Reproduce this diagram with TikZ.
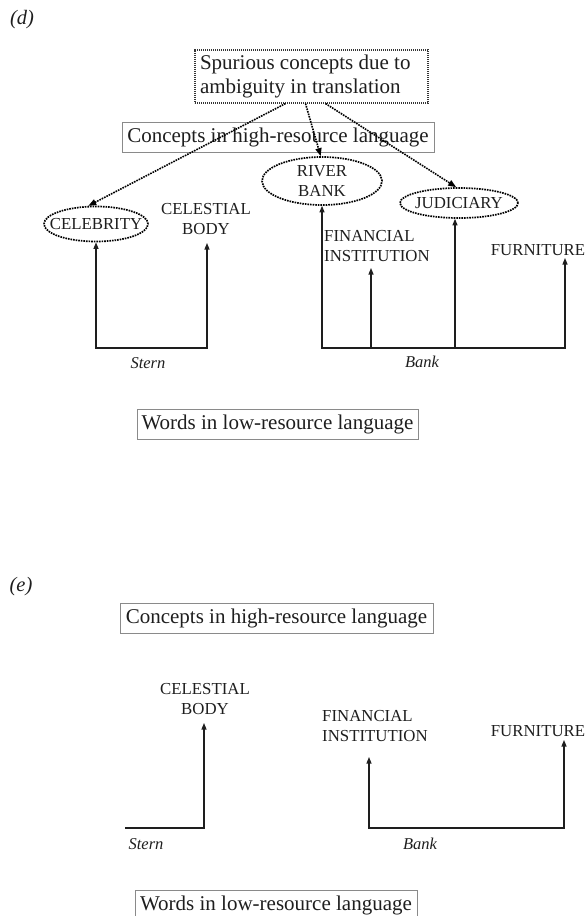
\documentclass[tikz,border=0pt]{standalone}
\usepackage{fontspec}
\setmainfont{Liberation Serif}
\usetikzlibrary{arrows.meta,shapes.geometric}
\definecolor{ink}{HTML}{1E1E1E}
\definecolor{boxgray}{HTML}{8A8A8A}
\begin{document}
\begin{tikzpicture}[x=1pt,y=-1pt,
  every node/.style={text=ink},
  bigtext/.style={font=\fontsize{21}{24}\selectfont},
  captext/.style={font=\fontsize{16.8}{20}\selectfont},
  itlabel/.style={font=\fontsize{16.5}{20}\selectfont\itshape},
  panellabel/.style={font=\fontsize{20.5}{24}\selectfont\itshape},
  graybox/.style={draw=boxgray, line width=1pt, rectangle, inner sep=0pt, minimum height=30pt, bigtext},
  dotbox/.style={draw=ink!90, dash pattern=on 1.1pt off 0.9pt, line width=1.1pt, rectangle, inner xsep=5pt, inner ysep=0pt, bigtext, align=flush left},
  oval/.style={ellipse, draw=black, dash pattern=on 1.6pt off 1pt, line width=1.7pt, inner sep=0pt},
  arr/.style={draw=ink, line width=1.1pt, -{Triangle[length=6.5pt,width=5pt]}},
  arrboth/.style={draw=ink, line width=1.1pt, {Triangle[length=6.5pt,width=5pt]}-{Triangle[length=6.5pt,width=5pt]}},
  dotarr/.style={draw=black, dash pattern=on 1.6pt off 1pt, line width=1.6pt, -{Triangle[length=8pt,width=6pt]}},
]
\useasboundingbox (0,0) rectangle (588,916);

% ---------------- panel (d) ----------------
\node[panellabel] (dlab) at (22,20) {(d)};

\node[dotbox, text width=223pt, minimum height=53pt] (spur) at (311.5,76.5)
  {Spurious concepts due to\\ambiguity in translation};

\node[graybox, minimum width=312pt] (conc1) at (278,137) {Concepts in high-resource language};

\node[oval, minimum width=104pt, minimum height=35pt,
  label={[captext]center:CELEBRITY}] (celeb) at (96,224) {};
\node[oval, minimum width=120pt, minimum height=48pt,
  label={[captext,align=center]center:{RIVER\\BANK}}] (river) at (322,181) {};
\node[oval, minimum width=118pt, minimum height=30pt,
  label={[captext]center:JUDICIARY}] (judic) at (459,203) {};

\node[captext, align=center, inner sep=0pt] (celest) at (206,219) {CELESTIAL\\BODY};
\node[captext, align=left, inner sep=0pt, anchor=west] (fin) at (324,246) {FINANCIAL\\INSTITUTION};
\node[captext, inner sep=0pt] (furn) at (538,250) {FURNITURE};

\node[itlabel] (stern1) at (148,363) {Stern};
\node[itlabel] (bank1) at (422,362) {Bank};

\node[graybox, minimum width=281pt] (words1) at (277.5,424) {Words in low-resource language};

% dotted spurious arrows
\draw[dotarr] ([xshift=-26pt]spur.south) -- (celeb.113);
\draw[dotarr] ([xshift=-6pt]spur.south) -- (river.93);
\draw[dotarr] ([xshift=14pt]spur.south) -- (judic.100);

% Stern connectors
\coordinate (sL) at (96,348);
\coordinate (sR) at (207,348);
\coordinate (celestTip) at (207,243);
\draw[arrboth] (celeb.south) -- (sL) -- (sR) -- (celestTip);

% Bank connectors
\coordinate (bL) at (322,348);
\coordinate (bF) at (371,348);
\coordinate (bJ) at (455,348);
\coordinate (bR) at (565,348);
\coordinate (finTip) at (371,268);
\coordinate (furnTip) at (565,258);
\draw[arrboth] (river.south) -- (bL) -- (bR) -- (furnTip);
\draw[arr] (bF) -- (finTip);
\draw[arr] (bJ) -- (bJ |- judic.south);

% ---------------- panel (e) ----------------
\node[panellabel] (elab) at (21,587) {(e)};

\node[graybox, minimum width=313pt] (conc2) at (276.5,618) {Concepts in high-resource language};

\node[captext, align=center, inner sep=0pt] (celest2) at (205,699.5) {CELESTIAL\\BODY};
\node[captext, align=left, inner sep=0pt, anchor=west] (fin2) at (322,726.5) {FINANCIAL\\INSTITUTION};
\node[captext, inner sep=0pt] (furn2) at (538,731) {FURNITURE};

\node[itlabel] (stern2) at (146,844) {Stern};
\node[itlabel] (bank2) at (420,844) {Bank};

\coordinate (tL) at (125,828);
\coordinate (tR) at (204,828);
\coordinate (celest2Tip) at (204,723);
\draw[arr] (tL) -- (tR) -- (celest2Tip);

\coordinate (cL) at (369,828);
\coordinate (cR) at (564,828);
\coordinate (fin2Tip) at (369,757);
\coordinate (furn2Tip) at (564,740);
\draw[arrboth] (fin2Tip) -- (cL) -- (cR) -- (furn2Tip);

\node[graybox, minimum width=282pt] (words2) at (276,905) {Words in low-resource language};
\end{tikzpicture}
\end{document}
